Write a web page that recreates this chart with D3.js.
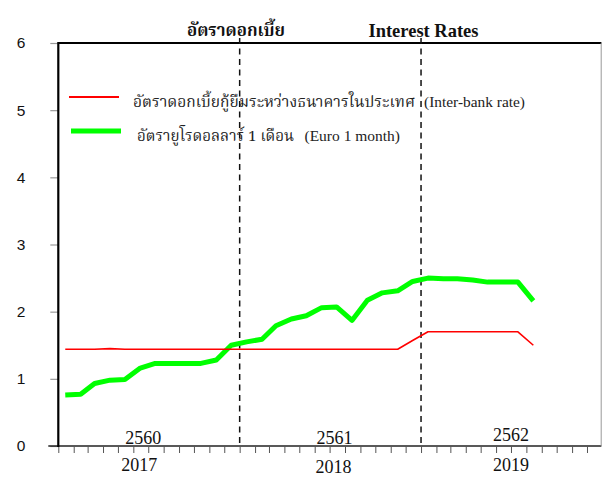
<!DOCTYPE html>
<html>
<head>
<meta charset="utf-8">
<script src="https://cdn.jsdelivr.net/npm/d3@7"></script>
<style>
  html, body { margin: 0; padding: 0; background: #fff; }
  svg { display: block; }
  .thai { font-family: "Noto Serif Thai", "Noto Sans Thai", "Tlwg Typo", "Norasi", "Garuda", "Loma", serif; }
  .latin { font-family: "Liberation Serif", "Times New Roman", serif; }
</style>
</head>
<body>
<svg id="chart" width="602" height="477"></svg>
<script>
// Monthly observations, Jan 2017 - Aug 2019
const months = [
  "2017-01","2017-02","2017-03","2017-04","2017-05","2017-06",
  "2017-07","2017-08","2017-09","2017-10","2017-11","2017-12",
  "2018-01","2018-02","2018-03","2018-04","2018-05","2018-06",
  "2018-07","2018-08","2018-09","2018-10","2018-11","2018-12",
  "2019-01","2019-02","2019-03","2019-04","2019-05","2019-06",
  "2019-07","2019-08"
];
// Inter-bank rate (%)
const interbank = [
  1.44, 1.44, 1.44, 1.45, 1.44, 1.44, 1.44, 1.44, 1.44, 1.44, 1.44, 1.44,
  1.44, 1.44, 1.44, 1.44, 1.44, 1.44, 1.44, 1.44, 1.44, 1.44, 1.44, 1.57,
  1.70, 1.70, 1.70, 1.70, 1.70, 1.70, 1.70, 1.50
];
// Euro 1 month rate (%)
const euro1m = [
  0.76, 0.77, 0.93, 0.98, 0.99, 1.16, 1.23, 1.23, 1.23, 1.23, 1.28, 1.50,
  1.55, 1.59, 1.79, 1.89, 1.94, 2.06, 2.07, 1.87, 2.17, 2.28, 2.31, 2.45,
  2.50, 2.49, 2.49, 2.47, 2.44, 2.44, 2.44, 2.16
];
const yTicks = [0, 1, 2, 3, 4, 5, 6];
const ceYears = ["2017", "2018", "2019"];
const beYears = ["2560", "2561", "2562"];
const titleThai = "อัตราดอกเบี้ย";
const titleEn = "Interest Rates";
const legendThai = ["อัตราดอกเบี้ยกู้ยืมระหว่างธนาคารในประเทศ", "อัตรายูโรดอลลาร์ 1 เดือน"];
const legendEn = ["(Inter-bank rate)", "(Euro 1 month)"];

const svg = d3.select("#chart");
const plotL = 58.3, plotR = 602.4, plotT = 43, plotB = 446;

const parse = d3.timeParse("%Y-%m");
const dates = months.map(m => d3.timeDay.offset(parse(m), 14));

const x = d3.scaleTime()
  .domain([new Date(2017, 0, 1), new Date(2020, 0, 1)])
  .range([plotL, plotR]);
const y = d3.scaleLinear().domain([0, 6]).range([plotB, plotT]);

// Y axis with short grey ticks
const yAxis = svg.append("g")
  .attr("transform", `translate(${plotL},0)`)
  .call(d3.axisLeft(y).tickValues(yTicks).tickSize(8).tickPadding(25).tickFormat(d3.format("d")));
yAxis.select(".domain").remove();
yAxis.selectAll(".tick line").attr("stroke", "#999").attr("stroke-width", 1.2);
yAxis.selectAll(".tick text")
  .attr("font-family", "Liberation Sans, Arial, sans-serif")
  .attr("font-size", 15.5).attr("fill", "#111");

// X axis: monthly ticks, no labels
const xAxis = svg.append("g")
  .attr("transform", `translate(0,${plotB})`)
  .call(d3.axisBottom(x).ticks(d3.timeMonth.every(1)).tickSize(7).tickSizeOuter(0).tickFormat(""));
xAxis.select(".domain").attr("stroke", "#222").attr("stroke-width", 1.6)
  .attr("d", `M${plotL - 10},0H${plotR - 1}`);
xAxis.selectAll(".tick line").attr("stroke", "#555").attr("stroke-width", 1);

// Plot frame
svg.append("line").attr("x1", plotL).attr("x2", plotL).attr("y1", plotT - 1).attr("y2", plotB + 1)
  .attr("stroke", "#000").attr("stroke-width", 2.2);
svg.append("line").attr("x1", plotL).attr("x2", plotR - 1).attr("y1", plotT).attr("y2", plotT)
  .attr("stroke", "#000").attr("stroke-width", 2.2);
svg.append("line").attr("x1", plotR - 1.2).attr("x2", plotR - 1.2).attr("y1", plotT).attr("y2", plotB)
  .attr("stroke", "#999").attr("stroke-width", 1);

// Year separators
[new Date(2018, 0, 1), new Date(2019, 0, 1)].forEach(d => {
  svg.append("line")
    .attr("x1", x(d)).attr("x2", x(d)).attr("y1", plotT - 5).attr("y2", plotB)
    .attr("stroke", "#111").attr("stroke-width", 1.5).attr("stroke-dasharray", "6,4.5");
});

// Series lines
const line = vals => d3.line().x((d, i) => x(dates[i])).y(d => y(d))(vals);
svg.append("path").attr("d", line(euro1m)).attr("fill", "none")
  .attr("stroke", "#00ff00").attr("stroke-width", 5).attr("stroke-linejoin", "round");
svg.append("path").attr("d", line(interbank)).attr("fill", "none")
  .attr("stroke", "#ff0000").attr("stroke-width", 1.6).attr("stroke-linejoin", "round");

// Year labels: Buddhist era inside the plot, Gregorian below the axis
const beNudge = [-5, 5, 0];
const ceNudge = [-9, 4, 0];
beYears.forEach((t, i) => {
  svg.append("text").attr("class", "latin")
    .attr("x", x(new Date(2017 + i, 6, 1)) + beNudge[i]).attr("y", i === 2 ? 441 : 444)
    .attr("text-anchor", "middle").attr("font-size", 18).attr("fill", "#111").text(t);
});
ceYears.forEach((t, i) => {
  svg.append("text").attr("class", "latin")
    .attr("x", x(new Date(2017 + i, 6, 1)) + ceNudge[i]).attr("y", i === 1 ? 473 : 471)
    .attr("text-anchor", "middle").attr("font-size", 18).attr("fill", "#111").text(t);
});

// Fit a text element to a target width: shrink the font if needed, then pin its length
function fitText(sel, size, width) {
  sel.attr("font-size", size);
  const natural = sel.node().getComputedTextLength();
  if (natural > width) sel.attr("font-size", size * width / natural);
  sel.attr("textLength", width).attr("lengthAdjust", "spacingAndGlyphs");
  return sel;
}

// Title
fitText(svg.append("text").attr("class", "thai")
  .attr("x", 187).attr("y", 36).attr("font-weight", "bold").attr("fill", "#111")
  .text(titleThai), 19, 98);
fitText(svg.append("text").attr("class", "latin")
  .attr("x", 368.5).attr("y", 36.5).attr("font-weight", "bold").attr("fill", "#111")
  .text(titleEn), 18.5, 110);

// Legend
const legendItems = [
  { color: "#ff0000", width: 2, ly: 97, x1: 69, x2: 119, tx: 133, tw: 282, ex: 424, ew: 101, ty: 107 },
  { color: "#00ff00", width: 5, ly: 131, x1: 71, x2: 121, tx: 137, tw: 157, ex: 304.5, ew: 95.5, ty: 141 }
];
legendItems.forEach((s, i) => {
  svg.append("line").attr("x1", s.x1).attr("x2", s.x2).attr("y1", s.ly).attr("y2", s.ly)
    .attr("stroke", s.color).attr("stroke-width", s.width);
  fitText(svg.append("text").attr("class", "thai")
    .attr("x", s.tx).attr("y", s.ty).attr("fill", "#222")
    .text(legendThai[i]), 17, s.tw);
  fitText(svg.append("text").attr("class", "latin")
    .attr("x", s.ex).attr("y", s.ty).attr("fill", "#222")
    .text(legendEn[i]), 15.5, s.ew);
});
</script>
</body>
</html>
